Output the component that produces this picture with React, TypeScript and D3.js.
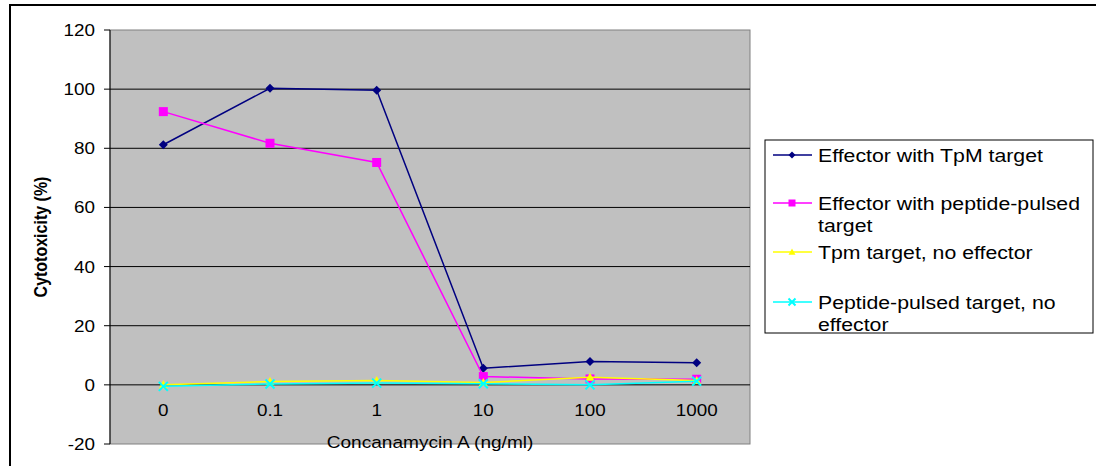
import React from "react";
import * as d3 from "d3";

const categories = ["0", "0.1", "1", "10", "100", "1000"];
const tpmTarget = [81.2, 100.3, 99.6, 5.6, 7.9, 7.5];
const peptideTarget = [92.4, 81.7, 75.2, 2.8, 2.0, 1.9];
const tpmNoEffector = [0.0, 1.1, 1.5, 0.8, 2.6, 1.5];
const peptideNoEffector = [-0.5, 0.3, 0.6, 0.4, 0.0, 1.2];
const yTicks = [-20, 0, 20, 40, 60, 80, 100, 120];

type Shape = "diamond" | "square" | "triangle" | "cross";
const series: { name: string[]; values: number[]; color: string; shape: Shape }[] = [
  { name: ["Effector with TpM target"], values: tpmTarget, color: "#000080", shape: "diamond" },
  { name: ["Effector with peptide-pulsed", "target"], values: peptideTarget, color: "#FF00FF", shape: "square" },
  { name: ["Tpm target, no effector"], values: tpmNoEffector, color: "#FFFF00", shape: "triangle" },
  { name: ["Peptide-pulsed target, no", "effector"], values: peptideNoEffector, color: "#00FFFF", shape: "cross" },
];

const W = 1096;
const H = 466;
const plot = { left: 110, top: 30, right: 750, bottom: 444 };
const FONT = "'Liberation Sans', Arial, sans-serif";
const SX = 1.15;

function Marker({ shape, x, y, color, s }: { shape: Shape; x: number; y: number; color: string; s: number }) {
  const h = s / 2;
  if (shape === "diamond")
    return <path d={`M${x},${y - h}L${x + h},${y}L${x},${y + h}L${x - h},${y}Z`} fill={color} />;
  if (shape === "square") return <rect x={x - h} y={y - h} width={s} height={s} fill={color} />;
  if (shape === "triangle")
    return <path d={`M${x},${y - h}L${x + h},${y + h * 0.8}L${x - h},${y + h * 0.8}Z`} fill={color} />;
  return (
    <path
      d={`M${x - h},${y - h}L${x + h},${y + h}M${x - h},${y + h}L${x + h},${y - h}`}
      stroke={color}
      strokeWidth={2}
      fill="none"
    />
  );
}

function SText({ x, y, anchor, size, bold, children }: any) {
  return (
    <text
      transform={`translate(${x},${y}) scale(${SX},1)`}
      textAnchor={anchor || "start"}
      fontFamily={FONT}
      fontSize={size}
      fontWeight={bold ? "bold" : "normal"}
      fill="#000"
    >
      {children}
    </text>
  );
}

export default function App() {
  const x = d3.scaleBand<string>().domain(categories).range([plot.left, plot.right]);
  const y = d3.scaleLinear().domain([-20, 120]).range([plot.bottom, plot.top]);
  const cx = (c: string) => (x(c) as number) + x.bandwidth() / 2;
  const line = d3
    .line<number>()
    .x((_, i) => cx(categories[i]))
    .y((d) => y(d));

  const legend = { left: 765, top: 140, right: 1093, bottom: 333 };
  const legendRows = [155, 203, 252, 302];

  return (
    <svg
      width={W}
      height={H}
      style={{ position: "absolute", left: 0, top: 0, background: "#fff" }}
    >
      {/* chart frame */}
      <rect x={10} y={5} width={W} height={H} fill="#fff" stroke="#000" strokeWidth={2} />

      {/* plot area */}
      <rect
        x={plot.left}
        y={plot.top}
        width={plot.right - plot.left}
        height={plot.bottom - plot.top}
        fill="#C0C0C0"
        stroke="#808080"
        strokeWidth={1}
      />
      {yTicks
        .filter((t) => t > -20 && t < 120)
        .map((t) => (
          <line key={t} x1={plot.left} x2={plot.right} y1={y(t)} y2={y(t)} stroke="#000" strokeWidth={1} />
        ))}

      {/* y axis */}
      <line x1={plot.left} x2={plot.left} y1={plot.top} y2={plot.bottom} stroke="#000" strokeWidth={1} />
      {yTicks.map((t) => (
        <g key={t}>
          <line x1={plot.left - 6} x2={plot.left} y1={y(t)} y2={y(t)} stroke="#000" strokeWidth={1} />
          <SText x={95} y={y(t) + 6} anchor="end" size={16.4}>
            {t}
          </SText>
        </g>
      ))}

      {/* x labels */}
      {categories.map((c) => (
        <SText key={c} x={cx(c)} y={416} anchor="middle" size={16.4}>
          {c}
        </SText>
      ))}
      <SText x={(plot.left + plot.right) / 2} y={448} anchor="middle" size={16.6}>
        Concanamycin A (ng/ml)
      </SText>
      <text
        transform={`translate(47,${(plot.top + plot.bottom) / 2}) scale(${SX},1) rotate(-90)`}
        textAnchor="middle"
        fontFamily={FONT}
        fontSize={16}
        fontWeight="bold"
      >
        Cytotoxicity (%)
      </text>

      {/* series */}
      {series.map((s) => (
        <g key={s.name.join(" ")}>
          <path d={line(s.values) || ""} fill="none" stroke={s.color} strokeWidth={1.5} />
          {s.values.map((v, i) => (
            <Marker key={i} shape={s.shape} x={cx(categories[i])} y={y(v)} color={s.color} s={9} />
          ))}
        </g>
      ))}

      {/* legend */}
      <rect
        x={legend.left}
        y={legend.top}
        width={legend.right - legend.left}
        height={legend.bottom - legend.top}
        fill="#fff"
        stroke="#000"
        strokeWidth={1}
      />
      {series.map((s, i) => (
        <g key={i}>
          <line x1={773} x2={812} y1={legendRows[i]} y2={legendRows[i]} stroke={s.color} strokeWidth={1.5} />
          <Marker shape={s.shape} x={792} y={legendRows[i]} color={s.color} s={7} />
          {s.name.map((n, j) => (
            <SText key={j} x={818} y={legendRows[i] + 6.5 + j * 22} size={18.5}>
              {n}
            </SText>
          ))}
        </g>
      ))}
    </svg>
  );
}
